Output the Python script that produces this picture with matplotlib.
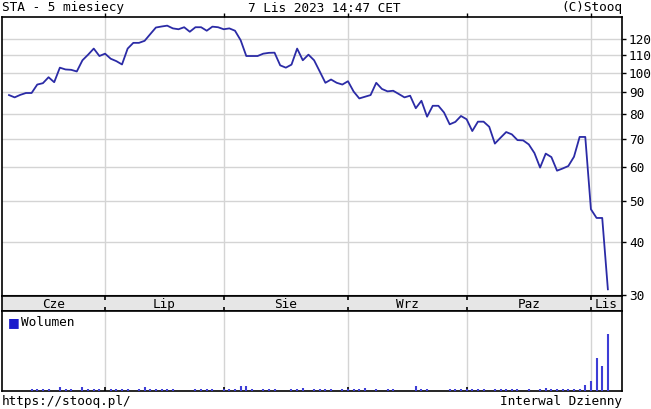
import numpy as np
import matplotlib
matplotlib.use("Agg")
import matplotlib.pyplot as plt
from matplotlib.ticker import FixedLocator, NullLocator, NullFormatter

# daily close, 7 Jun 2023 .. 7 Nov 2023 (trading days)
close = [
    88.6, 87.5, 88.7, 89.6, 89.6, 93.8, 94.5, 97.6, 95.0, 102.8,
    101.8, 101.6, 100.7, 107.0, 110.3, 114.0, 109.5,
    110.9, 107.9, 106.5, 104.6, 114.0, 117.6, 117.6, 118.9, 123.3, 127.8,
    128.5, 129.1, 127.2, 126.6, 128.0, 124.9, 128.0, 128.0, 125.6, 128.4, 128.0,
    126.6, 127.2, 125.6, 119.3, 109.5, 109.5, 109.5, 110.9, 111.4, 111.5,
    104.1, 102.8, 104.5, 114.0, 107.0, 110.3, 107.0, 100.7, 94.7, 96.4, 94.7, 93.8,
    95.5, 90.3, 87.0, 87.8, 88.6, 94.7, 91.6, 90.4, 90.7, 89.1,
    87.5, 88.3, 82.5, 85.9, 78.8, 83.6, 83.6, 80.6, 75.6, 76.6, 79.1,
    77.7, 72.9, 76.7, 76.7, 74.6, 68.1, 70.3, 72.5, 71.6, 69.4,
    69.3, 67.8, 64.7, 59.8, 64.5, 63.3, 58.8, 59.5, 60.3, 63.4, 70.6, 70.6,
    47.7, 45.5, 45.5, 30.9,
]
volume = [
    0, 0, 0, 0, 2, 2, 2, 2, 0, 4, 2, 2, 0, 4, 2, 2, 2,
    0, 2, 2, 2, 2, 0, 2, 4, 2, 2, 2, 2, 2, 0, 0, 0, 2, 2, 2, 2, 0,
    2, 2, 2, 5, 5, 2, 0, 2, 2, 2, 0, 0, 2, 2, 3, 0, 2, 2, 2, 2, 0, 2,
    2, 2, 2, 3, 0, 2, 0, 2, 2, 0, 0, 0, 5, 2, 2, 0, 0, 0, 2, 2, 2,
    2, 2, 2, 2, 0, 2, 2, 2, 2, 2, 0, 2, 0, 2, 3, 2, 2, 2, 2, 2, 2, 6,
    10, 33, 25, 57,
]
month_names = ["Cze", "Lip", "Sie", "Wrz", "Paz", "Lis"]
month_starts = [0, 17, 38, 60, 81, 103]   # index of first trading day
price_ticks = [30, 40, 50, 60, 70, 80, 90, 100, 110, 120]

W, H = 651, 409
FONT = "DejaVu Sans Mono"
FS = 9.2
LINE = "#2b2ba6"
GRID = "#d4d4d4"

def box(l, t, r, b):
    return [l / W, 1 - b / H, (r - l) / W, (b - t) / H]

x = np.arange(len(close))
xlim = (-1.24, 108.5)
bounds = month_starts[1:]

fig = plt.figure(figsize=(W / 100, H / 100), dpi=100)

# price panel
ax = fig.add_axes(box(2, 17, 622, 296))
ax.set_yscale("log")
ax.set_xlim(*xlim)
ax.set_ylim(29.8, 135.3)
for b in bounds:
    ax.axvline(b, color=GRID, lw=1.0, zorder=0)
for p in price_ticks:
    ax.axhline(p, color=GRID, lw=1.0, zorder=0)
ax.plot(x, close, color=LINE, lw=1.3, zorder=3)
ax.yaxis.set_major_locator(FixedLocator(price_ticks))
ax.yaxis.set_minor_locator(NullLocator())
ax.yaxis.set_minor_formatter(NullFormatter())
ax.set_yticklabels([str(p) for p in price_ticks])
ax.yaxis.tick_right()
ax.tick_params(axis="y", which="major", direction="out", length=3, width=1,
               labelsize=FS, pad=2)
for lab in ax.get_yticklabels():
    lab.set_family(FONT)
ax.xaxis.set_major_locator(FixedLocator(bounds))
ax.tick_params(axis="x", direction="out", length=3, width=1, top=True,
               bottom=False, labelbottom=False)
for s in ax.spines.values():
    s.set_linewidth(1.2)

# month strip
axm = fig.add_axes(box(2, 296, 622, 311))
axm.set_facecolor("#e6e6e6")
axm.set_xlim(*xlim)
axm.set_ylim(0, 1)
edges = [xlim[0]] + bounds + [xlim[1]]
for name, a, b in zip(month_names, edges[:-1], edges[1:]):
    axm.text((a + b) / 2, 0.45, name, ha="center", va="center",
             family=FONT, fontsize=FS)
axm.set_xticks(bounds)
axm.set_yticks([])
axm.tick_params(axis="x", direction="in", length=3, width=1.2, top=True,
                labelbottom=False)
for s in axm.spines.values():
    s.set_linewidth(1.2)

# volume panel
axv = fig.add_axes(box(2, 311, 622, 391))
axv.set_xlim(*xlim)
axv.set_ylim(0, max(volume) * 1.4)
for b in bounds:
    axv.axvline(b, color=GRID, lw=1.0, zorder=0)
axv.vlines(x, 0, volume, color="#3d3dd6", lw=1.5, zorder=3)
axv.set_xticks(bounds)
axv.set_yticks([])
axv.tick_params(axis="x", direction="in", length=3, width=1.2,
                labelbottom=False)
for s in axv.spines.values():
    s.set_linewidth(1.2)
axv.text(0.009, 0.85, "\u25a0", transform=axv.transAxes, color="#1a1acc",
         fontsize=9, va="center", ha="left", family="DejaVu Sans")
axv.text(0.031, 0.85, "Wolumen", transform=axv.transAxes, va="center",
         ha="left", family=FONT, fontsize=FS)

# header / footer texts
fig.text(2 / W, 1 - 8 / H, "STA - 5 miesiecy", family=FONT, fontsize=FS,
         va="center", ha="left")
fig.text(324 / W, 1 - 8 / H, "7 Lis 2023 14:47 CET", family=FONT,
         fontsize=FS, va="center", ha="center")
fig.text(622 / W, 1 - 8 / H, "(C)Stooq", family=FONT, fontsize=FS,
         va="center", ha="right")
fig.text(2 / W, 1 - 401 / H, "https://stooq.pl/", family=FONT, fontsize=FS,
         va="center", ha="left")
fig.text(622 / W, 1 - 401 / H, "Interwal Dzienny", family=FONT, fontsize=FS,
         va="center", ha="right")

fig.savefig("out.png", dpi=100)
